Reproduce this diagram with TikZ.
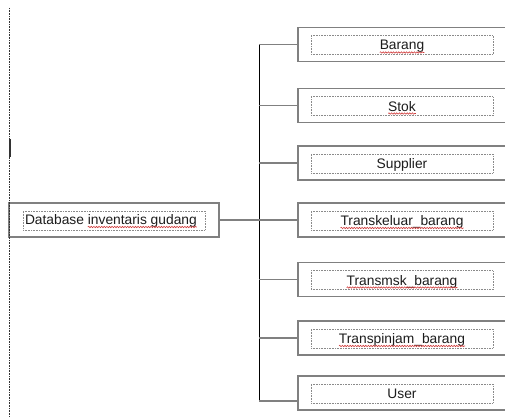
\documentclass[tikz,border=0pt]{standalone}
\usepackage{fontspec}
\setmainfont{Liberation Sans}
\usetikzlibrary{calc,decorations.pathmorphing}
\definecolor{boxgray}{HTML}{808080}
\definecolor{dotgray}{HTML}{8A8A8A}
\definecolor{txt}{HTML}{1C1C1C}
\definecolor{squig}{HTML}{D03A3A}
\begin{document}
\begin{tikzpicture}[x=1pt,y=-1pt,
  outerbox/.style={draw=boxgray,line width=1.5pt,fill=white,inner sep=0pt,outer sep=0pt,minimum height=34pt},
  rightbox/.style={outerbox,minimum width=214pt},
  innerbox/.style={draw=dotgray,densely dotted,line width=0.6pt,inner sep=0pt,minimum width=182pt,minimum height=19pt},
  lbl/.style={font=\fontsize{13.8}{16}\selectfont,text=txt,inner sep=0pt,outer sep=0pt},
  conn/.style={draw=boxgray,line width=1.6pt},
  trunk/.style={draw=black,line width=0.9pt},
  spell/.style={draw=squig,line width=0.6pt,decorate,decoration={snake,amplitude=0.7pt,segment length=2.6pt}}]
\useasboundingbox (0,0) rectangle (505,417);
\clip (0,0) rectangle (505,417);

% root box
\node[outerbox,minimum width=210pt] (root) at (114,220) {};
\node[innerbox] (rootin) at (114,220.5) {};
\node[lbl,anchor=base west] (db) at (25,224.5) {Database};
\node[lbl,anchor=base west] (inv) at ($(db.base east)+(3.8,0)$) {inventaris gudang};
\draw[spell] ($(inv.base west)+(0,2.5)$) -- ($(inv.base east)+(0,2.5)$);

% right boxes
\foreach \n/\y/\t/\s in {b1/44.5/Barang/1,b2/105.5/Stok/1,b3/163/Supplier/0,b4/220/Transkeluar\_barang/1,b5/279.5/Transmsk\_barang/1,b6/338/Transpinjam\_barang/1,b7/393/User/0}{
  \node[rightbox] (\n) at (405,\y) {};
  \node[innerbox] (\n in) at (402,\y+0.5) {};
  \node[lbl,anchor=base] (\n t) at (402,\y+5.5) {\t};
  \ifnum\s=1
    \draw[spell] ($(\n t.base west)+(0,2.5)$) -- ($(\n t.base east)+(0,2.5)$);
  \fi
}

% connectors
\coordinate (ttop) at (259,44.5);
\coordinate (tbot) at (259,401);
\draw[trunk] (ttop) -- (tbot);
\draw[conn] (root.east) -- (root.east -| ttop);
\foreach \n in {b1,b2,b3,b4,b5,b6}{
  \draw[conn] (\n.west -| ttop) -- (\n.west);
}
\draw[conn] (tbot) -- (tbot -| b7.west);

% page margin guide and cursor mark
\coordinate (gtop) at (9.5,8);
\coordinate (gbot) at (9.5,417);
\draw[black!80,densely dotted,line width=0.6pt] (gtop) -- (gbot);
\coordinate (mtop) at (10,139);
\coordinate (mbot) at (10,157);
\draw[black!80,line width=1.6pt] (mtop) -- (mbot);
\end{tikzpicture}
\end{document}
